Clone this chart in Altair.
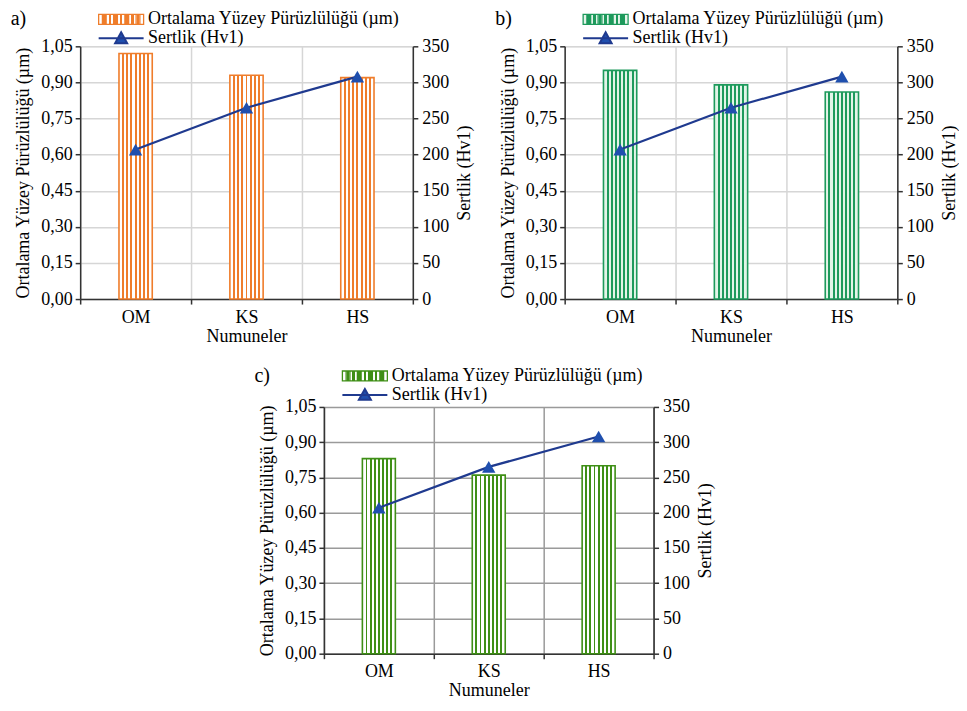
import altair as alt
import pandas as pd

categories = ["OM", "KS", "HS"]
roughness_a = [1.02, 0.93, 0.92]
roughness_b = [0.95, 0.89, 0.86]
roughness_c = [0.83, 0.76, 0.80]
hardness = [207, 265, 308]

rough_label = "Ortalama Yüzey Pürüzlülüğü (µm)"
hard_label = "Sertlik (Hv1)"
y_left_ticks = [0, 0.15, 0.30, 0.45, 0.60, 0.75, 0.90, 1.05]
y_right_ticks = [0, 50, 100, 150, 200, 250, 300, 350]

FONT = "Liberation Serif, Times New Roman, DejaVu Serif, serif"
FS = 18
NAVY = "#1f3a8f"
TRI = "#1f4fae"


def stripes(line_color, bg_color, n=8, frac=0.06):
    stops = [{"offset": 0, "color": bg_color}]
    for i in range(1, n):
        c = i / n
        a, b = c - frac / 2, c + frac / 2
        stops += [
            {"offset": a, "color": bg_color},
            {"offset": a, "color": line_color},
            {"offset": b, "color": line_color},
            {"offset": b, "color": bg_color},
        ]
    stops.append({"offset": 1, "color": bg_color})
    return {"gradient": "linear", "x1": 0, "x2": 1, "y1": 0, "y2": 0, "stops": stops}


# legend symbols (symbol size 225 -> unit = 7.5px)
hatch_path = "M-3,-0.667H3V0.667H-3Z" + "".join(
    f"M{-3 + k * 0.5:.3f},-0.667V0.667" for k in range(1, 12)
)
line_path = "M-3,0H3M0,-0.8L0.8,0.65H-0.8Z"


def axis_style(**kw):
    base = dict(
        labelFont=FONT, labelFontSize=FS, labelColor="black", labelPadding=3,
        titleFont=FONT, titleFontSize=FS, titleFontWeight="normal", titleColor="black",
        domainColor="#333333", domainWidth=1.5,
        tickColor="#333333", tickWidth=1.5, tickSize=5,
    )
    base.update(kw)
    return alt.Axis(**base)


def legend_style(**kw):
    base = dict(
        title=None, orient="none", legendX=32, symbolSize=225,
        labelFont=FONT, labelFontSize=FS, labelColor="black", labelLimit=0,
        labelOffset=18, padding=0,
    )
    base.update(kw)
    return alt.Legend(**base)


def panel(label, values, color, bg, grid_color, w, h, ly1, ly2):
    df = pd.DataFrame(
        {"Numune": categories, "Rz": values, "Hv": hardness,
         "s1": [rough_label] * 3, "s2": [hard_label] * 3}
    )
    base = alt.Chart(df).encode(
        x=alt.X(
            "Numune:N", sort=categories,
            scale=alt.Scale(paddingInner=0, paddingOuter=0),
            axis=axis_style(
                title="Numuneler", tickBand="extent", labelAngle=0,
                grid=True, gridColor=grid_color, gridWidth=1.5,
                labelPadding=4, titlePadding=1,
            ),
        )
    )
    bars = base.mark_bar(
        fill=stripes(color, bg), strokeWidth=1.6, width=alt.RelativeBandSize(0.3)
    ).encode(
        y=alt.Y(
            "Rz:Q", scale=alt.Scale(domain=[0, 1.05], nice=False, zero=True),
            axis=axis_style(
                title=rough_label, orient="left", values=y_left_ticks,
                labelExpr="replace(format(datum.value, '.2f'), '.', ',')",
                grid=True, gridColor=grid_color, gridWidth=1.5, titlePadding=8,
            ),
        ),
        stroke=alt.Stroke(
            "s1:N", scale=alt.Scale(range=[color]),
            legend=legend_style(
                legendY=ly1, symbolType=hatch_path, symbolStrokeWidth=1.3,
                symbolFillColor="white", symbolStrokeColor=color,
            ),
        ),
    )
    right_axis = axis_style(
        title=hard_label, orient="right", values=y_right_ticks, grid=False,
        titlePadding=7, titleAngle=270, titleBaseline="top", labelPadding=4,
    )
    line = base.mark_line(strokeWidth=2.2).encode(
        y=alt.Y("Hv:Q", scale=alt.Scale(domain=[0, 350], nice=False), axis=right_axis),
        color=alt.Color(
            "s2:N", scale=alt.Scale(range=[NAVY]),
            legend=legend_style(
                legendY=ly2, symbolType=line_path, symbolStrokeWidth=2,
                symbolFillColor=TRI,
            ),
        ),
    )
    pts = base.mark_point(shape="triangle-up", filled=True, size=180, color=TRI, opacity=1).encode(
        y=alt.Y("Hv:Q", scale=alt.Scale(domain=[0, 350], nice=False), axis=right_axis)
    )
    right = alt.layer(line, pts)
    return (
        alt.layer(bars, right)
        .resolve_scale(y="independent", color="independent", stroke="independent")
        .properties(
            width=w, height=h,
            title=alt.TitleParams(label, anchor="start", font=FONT, fontSize=20,
                                  fontWeight="normal", color="black", dx=-4, offset=-19),
        )
    )


pa = panel("a)", roughness_a, "#ef7d2b", "#ffffff", "#d6d6d6", 333, 253, -36, -17)
pb = panel("b)", roughness_b, "#1e9a5c", "#e3f4e8", "#d6d6d6", 333, 253, -36, -17)
pc = panel("c)", roughness_c, "#3f8f16", "#ffffff", "#9a9a9a", 330, 247, -40, -21)

chart = (
    alt.vconcat(alt.hconcat(pa, pb, spacing=19), pc, spacing=19, center=True)
    .properties(padding={"left": 2, "top": 0, "right": 0, "bottom": 0})
    .configure_view(stroke=None)
    .configure(background="white")
)

chart.save("out.html", embed_options={"renderer": "svg", "actions": False})
